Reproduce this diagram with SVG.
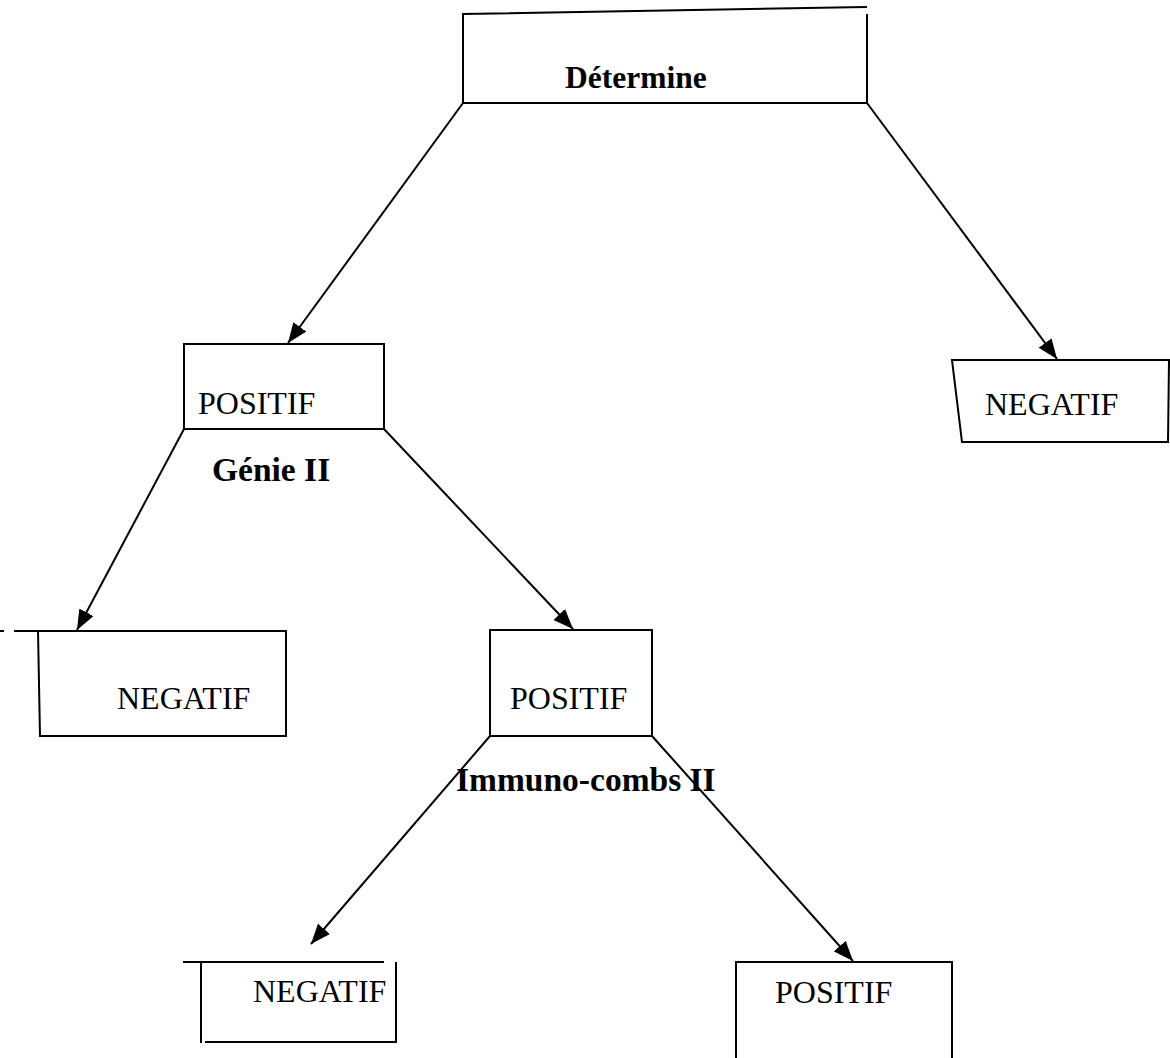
<svg xmlns="http://www.w3.org/2000/svg" width="1170" height="1058" viewBox="0 0 1170 1058">
<style>
.box{fill:none;stroke:#000;stroke-width:2;stroke-linecap:square}
.edge{fill:none;stroke:#000;stroke-width:2}
.t{font-family:"Liberation Serif","Times New Roman",serif;font-size:32px;fill:#000}
.b{font-weight:bold}
.hd{font-size:31.5px}
.lbl{font-size:33.5px}
</style>
<defs>
<marker id="ah" markerWidth="10" markerHeight="8" refX="10" refY="4" orient="auto" markerUnits="strokeWidth">
<path d="M0,0 L10,4 L0,8 z" fill="#000"/>
</marker>
</defs>
<rect width="1170" height="1058" fill="#fff"/>
<g id="connectors">
<line class="edge" x1="463" y1="103" x2="288" y2="343" marker-end="url(#ah)"/>
<line class="edge" x1="867" y1="103" x2="1057" y2="359" marker-end="url(#ah)"/>
<line class="edge" x1="184" y1="429" x2="77" y2="630" marker-end="url(#ah)"/>
<line class="edge" x1="384" y1="429" x2="573" y2="629" marker-end="url(#ah)"/>
<line class="edge" x1="490" y1="736" x2="311" y2="944" marker-end="url(#ah)"/>
<line class="edge" x1="652" y1="736" x2="853" y2="961" marker-end="url(#ah)"/>
</g>
<g id="node-determine">
<path class="box" d="M463,14 L866,7 M463,14 L463,103 L867,103 L867,15"/>
<text class="t b hd" x="565" y="88">Détermine</text>
</g>
<g id="node-positif1">
<rect class="box" x="184" y="344" width="200" height="85"/>
<text class="t" x="198" y="414">POSITIF</text>
</g>
<g id="node-negatif-right">
<path class="box" d="M952,360 L1169,360 L1168,442 L962,442 Z"/>
<text class="t" x="985" y="415">NEGATIF</text>
</g>
<g id="label-genie">
<text class="t b lbl" x="212" y="481">Génie II</text>
</g>
<g id="node-negatif-left">
<path class="box" d="M0,631 L3,631 M15,631 L286,631 L286,736 L40,736 L38,631"/>
<text class="t" x="117" y="709">NEGATIF</text>
</g>
<g id="node-positif2">
<rect class="box" x="490" y="630" width="162" height="106"/>
<text class="t" x="510" y="709">POSITIF</text>
</g>
<g id="label-immuno">
<text class="t b lbl" x="456" y="791">Immuno-combs II</text>
</g>
<g id="node-negatif-bottom">
<path class="box" d="M184,962 L383,962 M201,962 L201,1042 M206,1042 L396,1042 L396,963"/>
<text class="t" x="253" y="1002">NEGATIF</text>
</g>
<g id="node-positif-bottom">
<path class="box" d="M736,1060 L736,962 L952,962 L952,1060"/>
<text class="t" x="775" y="1003">POSITIF</text>
</g>
</svg>
